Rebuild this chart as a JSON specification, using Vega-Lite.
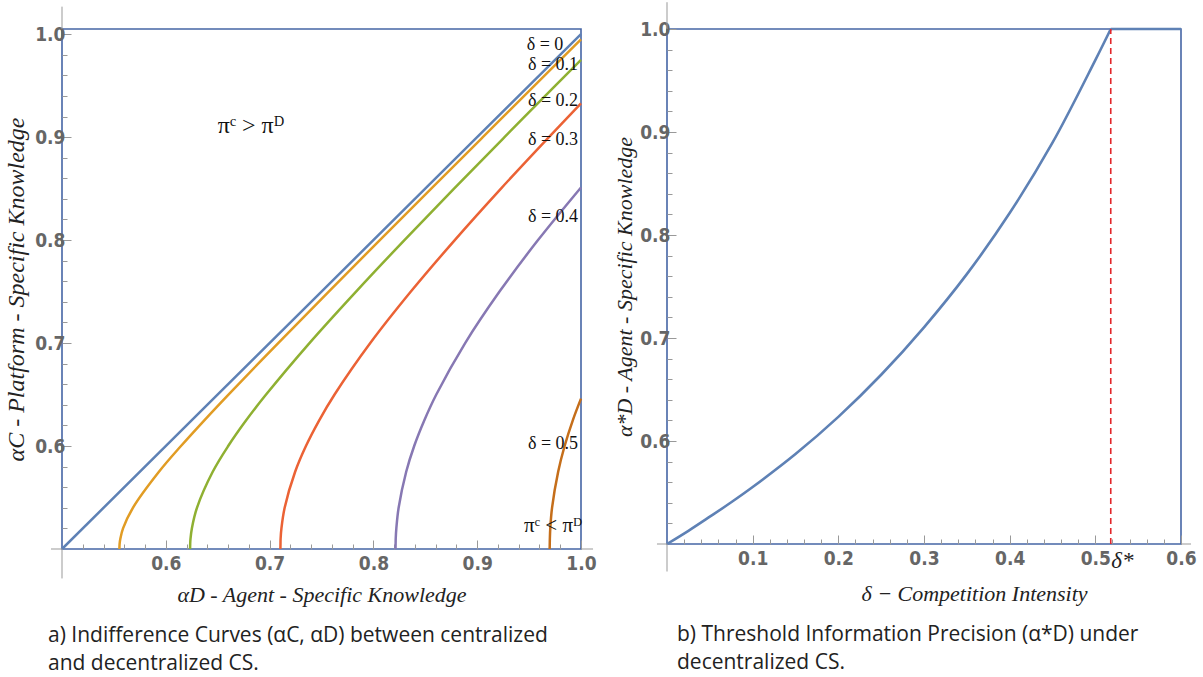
{
  "$schema": "https://vega.github.io/schema/vega-lite/v6.json",
  "background": "white",
  "padding": {"left": 3, "top": 0, "right": 2, "bottom": 0},
  "spacing": 15,
  "config": {
    "view": {"stroke": "#4565a5", "strokeWidth": 1.6},
    "axis": {
      "domain": false, "grid": false, "tickColor": "#999999", "tickWidth": 1,
      "labelFont": "Liberation Sans Narrow, DejaVu Sans Condensed, sans-serif",
      "labelFontWeight": "bold", "labelFontSize": 19, "labelColor": "#666666",
      "labelOverlap": false, "labelFlush": false, "labelBound": false,
      "titleFont": "Liberation Serif, serif", "titleFontStyle": "italic", "titleFontWeight": "normal",
      "titleFontSize": 22, "titleColor": "#222222"
    },
    "title": {"font": "Open Sans, sans-serif", "fontSize": 21, "fontWeight": "normal", "color": "#222222", "lineHeight": 28}
  },
  "datasets": {
    "curves": [
      {"d": "0", "x": 0.5, "y": 0.5}, {"d": "0", "x": 0.75, "y": 0.75}, {"d": "0", "x": 1.0, "y": 1.0},
      {"d": "0.1", "x": 0.5553, "y": 0.5}, {"d": "0.1", "x": 0.5555, "y": 0.505}, {"d": "0.1", "x": 0.5562, "y": 0.51}, {"d": "0.1", "x": 0.5588, "y": 0.52}, {"d": "0.1", "x": 0.5683, "y": 0.54}, {"d": "0.1", "x": 0.5934, "y": 0.575}, {"d": "0.1", "x": 0.6146, "y": 0.6}, {"d": "0.1", "x": 0.6371, "y": 0.625}, {"d": "0.1", "x": 0.6604, "y": 0.65}, {"d": "0.1", "x": 0.7083, "y": 0.7}, {"d": "0.1", "x": 0.757, "y": 0.75}, {"d": "0.1", "x": 0.8062, "y": 0.8}, {"d": "0.1", "x": 0.8557, "y": 0.85}, {"d": "0.1", "x": 0.9054, "y": 0.9}, {"d": "0.1", "x": 0.9552, "y": 0.95}, {"d": "0.1", "x": 1.0, "y": 0.995},
      {"d": "0.2", "x": 0.6234, "y": 0.5}, {"d": "0.2", "x": 0.6235, "y": 0.505}, {"d": "0.2", "x": 0.6238, "y": 0.51}, {"d": "0.2", "x": 0.6251, "y": 0.52}, {"d": "0.2", "x": 0.63, "y": 0.54}, {"d": "0.2", "x": 0.6452, "y": 0.575}, {"d": "0.2", "x": 0.6601, "y": 0.6}, {"d": "0.2", "x": 0.6774, "y": 0.625}, {"d": "0.2", "x": 0.6966, "y": 0.65}, {"d": "0.2", "x": 0.7384, "y": 0.7}, {"d": "0.2", "x": 0.7833, "y": 0.75}, {"d": "0.2", "x": 0.8299, "y": 0.8}, {"d": "0.2", "x": 0.8777, "y": 0.85}, {"d": "0.2", "x": 0.9263, "y": 0.9}, {"d": "0.2", "x": 0.9753, "y": 0.95}, {"d": "0.2", "x": 1.0, "y": 0.975},
      {"d": "0.3", "x": 0.7104, "y": 0.5}, {"d": "0.3", "x": 0.7105, "y": 0.505}, {"d": "0.3", "x": 0.7106, "y": 0.51}, {"d": "0.3", "x": 0.7114, "y": 0.52}, {"d": "0.3", "x": 0.7145, "y": 0.54}, {"d": "0.3", "x": 0.7246, "y": 0.575}, {"d": "0.3", "x": 0.735, "y": 0.6}, {"d": "0.3", "x": 0.7478, "y": 0.625}, {"d": "0.3", "x": 0.7626, "y": 0.65}, {"d": "0.3", "x": 0.797, "y": 0.7}, {"d": "0.3", "x": 0.8361, "y": 0.75}, {"d": "0.3", "x": 0.8784, "y": 0.8}, {"d": "0.3", "x": 0.9229, "y": 0.85}, {"d": "0.3", "x": 0.9691, "y": 0.9}, {"d": "0.3", "x": 1.0, "y": 0.9327},
      {"d": "0.4", "x": 0.8213, "y": 0.5}, {"d": "0.4", "x": 0.8214, "y": 0.505}, {"d": "0.4", "x": 0.8215, "y": 0.51}, {"d": "0.4", "x": 0.8221, "y": 0.52}, {"d": "0.4", "x": 0.8243, "y": 0.54}, {"d": "0.4", "x": 0.8316, "y": 0.575}, {"d": "0.4", "x": 0.8393, "y": 0.6}, {"d": "0.4", "x": 0.8491, "y": 0.625}, {"d": "0.4", "x": 0.8606, "y": 0.65}, {"d": "0.4", "x": 0.8884, "y": 0.7}, {"d": "0.4", "x": 0.9215, "y": 0.75}, {"d": "0.4", "x": 0.9586, "y": 0.8}, {"d": "0.4", "x": 1.0, "y": 0.8511},
      {"d": "0.5", "x": 0.9698, "y": 0.5}, {"d": "0.5", "x": 0.9699, "y": 0.505}, {"d": "0.5", "x": 0.97, "y": 0.51}, {"d": "0.5", "x": 0.9704, "y": 0.52}, {"d": "0.5", "x": 0.9721, "y": 0.54}, {"d": "0.5", "x": 0.978, "y": 0.575}, {"d": "0.5", "x": 0.9842, "y": 0.6}, {"d": "0.5", "x": 0.9921, "y": 0.625}, {"d": "0.5", "x": 1.0, "y": 0.646}
    ],
    "notes": [
      {"x": 0.9653, "y": 0.9898, "t": "δ = 0", "k": "delta"},
      {"x": 0.973, "y": 0.9704, "t": "δ = 0.1", "k": "delta"},
      {"x": 0.973, "y": 0.9354, "t": "δ = 0.2", "k": "delta"},
      {"x": 0.973, "y": 0.8976, "t": "δ = 0.3", "k": "delta"},
      {"x": 0.973, "y": 0.8227, "t": "δ = 0.4", "k": "delta"},
      {"x": 0.973, "y": 0.6023, "t": "δ = 0.5", "k": "delta"},
      {"x": 0.9731, "y": 0.522, "t": "πᶜ < πᴰ", "k": "pismall"},
      {"x": 0.682, "y": 0.911, "t": "πᶜ > πᴰ", "k": "pibig"}
    ],
    "extLeft": [
      {"x": 0.5, "x2": 0.5, "y": 1.005, "y2": 1.0267},
      {"x": 0.5, "x2": 0.5, "y": 0.4714, "y2": 0.5},
      {"x": 0.4894, "x2": 0.5, "y": 0.5, "y2": 0.5},
      {"x": 1.0, "x2": 1.0116, "y": 0.5, "y2": 0.5}
    ],
    "threshold": [
      {"s": "curve", "d": 0.0, "a": 0.5}, {"s": "curve", "d": 0.025, "a": 0.5128}, {"s": "curve", "d": 0.05, "a": 0.5265}, {"s": "curve", "d": 0.075, "a": 0.5405},
      {"s": "curve", "d": 0.1, "a": 0.5553}, {"s": "curve", "d": 0.15, "a": 0.5873}, {"s": "curve", "d": 0.2, "a": 0.6234}, {"s": "curve", "d": 0.25, "a": 0.6643},
      {"s": "curve", "d": 0.3, "a": 0.7104}, {"s": "curve", "d": 0.35, "a": 0.762}, {"s": "curve", "d": 0.4, "a": 0.8213}, {"s": "curve", "d": 0.45, "a": 0.8896},
      {"s": "curve", "d": 0.5, "a": 0.9698}, {"s": "curve", "d": 0.518, "a": 1.0},
      {"s": "flat", "d": 0.518, "a": 1.0}, {"s": "flat", "d": 0.6, "a": 1.0}
    ],
    "dstar": [{"d": 0.518, "a": 0.5, "a2": 1.0}],
    "extRight": [
      {"x": 0.0, "x2": 0.0, "y": 1.0, "y2": 1.026},
      {"x": 0.0, "x2": 0.0, "y": 0.4733, "y2": 0.5},
      {"x": -0.0117, "x2": 0.0, "y": 0.5, "y2": 0.5},
      {"x": 0.6, "x2": 0.6117, "y": 0.5, "y2": 0.5}
    ]
  },
  "hconcat": [
    {
      "width": 519,
      "height": 520,
      "title": {"text": ["a) Indifference Curves (αC, αD) between centralized", "and decentralized CS."], "orient": "bottom", "anchor": "start", "frame": "group", "dx": -14, "offset": 20},
      "resolve": {"scale": {"x": "independent", "y": "independent"}},
      "layer": [
        {
          "data": {"name": "curves"},
          "mark": {"type": "line", "strokeWidth": 2.5, "interpolate": "catmull-rom"},
          "encoding": {
            "x": {"field": "x", "type": "quantitative", "scale": {"domain": [0.5, 1.0], "nice": false, "zero": false},
              "axis": {
                "orient": "bottom",
                "values": [0.6, 0.7, 0.8, 0.9, 1.0], "format": ".1f",
                "tickSize": -9, "labelPadding": 14,
                "title": "αD  -  Agent - Specific Knowledge", "titlePadding": 11
              }},
            "y": {"field": "y", "type": "quantitative", "scale": {"domain": [0.5, 1.005], "nice": false, "zero": false},
              "axis": {
                "orient": "left",
                "values": [0.6, 0.7, 0.8, 0.9, 1.0], "format": ".1f",
                "tickSize": -9, "labelPadding": 6,
                "title": "αC - Platform - Specific Knowledge", "titlePadding": 6, "titleFontSize": 24
              }},
            "color": {"field": "d", "type": "nominal", "legend": null,
              "scale": {"domain": ["0", "0.1", "0.2", "0.3", "0.4", "0.5"], "range": ["#5E81B5", "#E19C24", "#8FB032", "#EB6235", "#8778B3", "#C56E1A"]}},
            "order": {"field": "y", "type": "quantitative"}
          }
        },
        {
          "data": {"name": "extLeft"},
          "mark": {"type": "rule", "color": "#999999", "strokeWidth": 1},
          "encoding": {
            "x": {"field": "x", "type": "quantitative", "scale": {"domain": [0.5, 1.0], "nice": false, "zero": false},
              "axis": {"orient": "bottom", "labels": false, "title": null, "tickSize": -5,
                "values": [0.52,0.54,0.56,0.58,0.62,0.64,0.66,0.68,0.72,0.74,0.76,0.78,0.82,0.84,0.86,0.88,0.92,0.94,0.96,0.98]}},
            "x2": {"field": "x2"},
            "y": {"field": "y", "type": "quantitative", "scale": {"domain": [0.5, 1.005], "nice": false, "zero": false},
              "axis": {"orient": "left", "labels": false, "title": null, "tickSize": -5,
                "values": [0.52,0.54,0.56,0.58,0.62,0.64,0.66,0.68,0.72,0.74,0.76,0.78,0.82,0.84,0.86,0.88,0.92,0.94,0.96,0.98]}},
            "y2": {"field": "y2"}
          }
        },
        {
          "data": {"name": "notes"},
          "mark": {"type": "text", "font": "Liberation Serif, serif", "color": "#111111", "align": "center", "baseline": "middle"},
          "encoding": {
            "x": {"field": "x", "type": "quantitative", "scale": {"domain": [0.5, 1.0], "nice": false, "zero": false}, "axis": null},
            "y": {"field": "y", "type": "quantitative", "scale": {"domain": [0.5, 1.005], "nice": false, "zero": false}, "axis": null},
            "text": {"field": "t", "type": "nominal"},
            "size": {"field": "k", "type": "nominal", "legend": null, "scale": {"domain": ["delta", "pismall", "pibig"], "range": [18, 24, 31]}}
          }
        }
      ]
    },
    {
      "width": 514,
      "height": 515,
      "title": {"text": ["b) Threshold Information Precision (α*D) under", "decentralized CS."], "orient": "bottom", "anchor": "start", "frame": "group", "dx": 10, "offset": 20},
      "resolve": {"scale": {"x": "independent", "y": "independent"}},
      "layer": [
        {
          "data": {"name": "threshold"},
          "mark": {"type": "line", "strokeWidth": 2.6, "color": "#5E81B5", "interpolate": "catmull-rom"},
          "encoding": {
            "x": {"field": "d", "type": "quantitative", "scale": {"domain": [0, 0.6], "nice": false, "zero": false},
              "axis": {
                "orient": "bottom",
                "values": [0.1, 0.2, 0.3, 0.4, 0.5, 0.518, 0.6],
                "labelExpr": "datum.value == 0.518 ? 'δ*' : format(datum.value, '.1f')",
                "tickSize": -9,
                "tickOpacity": {"condition": {"test": "datum.value == 0.518", "value": 0}, "value": 1},
                "labelFont": {"condition": {"test": "datum.value == 0.518", "value": "Liberation Serif, serif"}, "value": "Liberation Sans Narrow, DejaVu Sans Condensed, sans-serif"},
                "labelFontStyle": {"condition": {"test": "datum.value == 0.518", "value": "italic"}, "value": "normal"},
                "labelFontWeight": {"condition": {"test": "datum.value == 0.518", "value": "normal"}, "value": "bold"},
                "labelFontSize": {"condition": {"test": "datum.value == 0.518", "value": 23}, "value": 19},
                "labelColor": {"condition": {"test": "datum.value == 0.518", "value": "#222222"}, "value": "#666666"},
                "labelAlign": {"condition": {"test": "datum.value == 0.518", "value": "left"}, "value": "center"},
                "labelPadding": 14,
                "title": "δ − Competition Intensity", "titlePadding": 11, "titleX": 307
              }},
            "y": {"field": "a", "type": "quantitative", "scale": {"domain": [0.5, 1.0], "nice": false, "zero": false},
              "axis": {
                "orient": "left",
                "values": [0.6, 0.7, 0.8, 0.9, 1.0], "format": ".1f",
                "tickSize": -9, "labelPadding": 6,
                "title": "α*D - Agent - Specific Knowledge", "titlePadding": 3
              }},
            "detail": {"field": "s", "type": "nominal"},
            "order": {"field": "d", "type": "quantitative"}
          }
        },
        {
          "data": {"name": "dstar"},
          "mark": {"type": "rule", "color": "#E3262B", "strokeWidth": 1.6, "strokeDash": [6, 4]},
          "encoding": {
            "x": {"field": "d", "type": "quantitative", "scale": {"domain": [0, 0.6], "nice": false, "zero": false}, "axis": null},
            "y": {"field": "a", "type": "quantitative", "scale": {"domain": [0.5, 1.0], "nice": false, "zero": false}, "axis": null},
            "y2": {"field": "a2"}
          }
        },
        {
          "data": {"name": "extRight"},
          "mark": {"type": "rule", "color": "#999999", "strokeWidth": 1},
          "encoding": {
            "x": {"field": "x", "type": "quantitative", "scale": {"domain": [0, 0.6], "nice": false, "zero": false},
              "axis": {"orient": "bottom", "labels": false, "title": null, "tickSize": -5,
                "values": [0.02,0.04,0.06,0.08,0.12,0.14,0.16,0.18,0.22,0.24,0.26,0.28,0.32,0.34,0.36,0.38,0.42,0.44,0.46,0.48,0.52,0.54,0.56,0.58]}},
            "x2": {"field": "x2"},
            "y": {"field": "y", "type": "quantitative", "scale": {"domain": [0.5, 1.0], "nice": false, "zero": false},
              "axis": {"orient": "left", "labels": false, "title": null, "tickSize": -5,
                "values": [0.52,0.54,0.56,0.58,0.62,0.64,0.66,0.68,0.72,0.74,0.76,0.78,0.82,0.84,0.86,0.88,0.92,0.94,0.96,0.98]}},
            "y2": {"field": "y2"}
          }
        }
      ]
    }
  ]
}
